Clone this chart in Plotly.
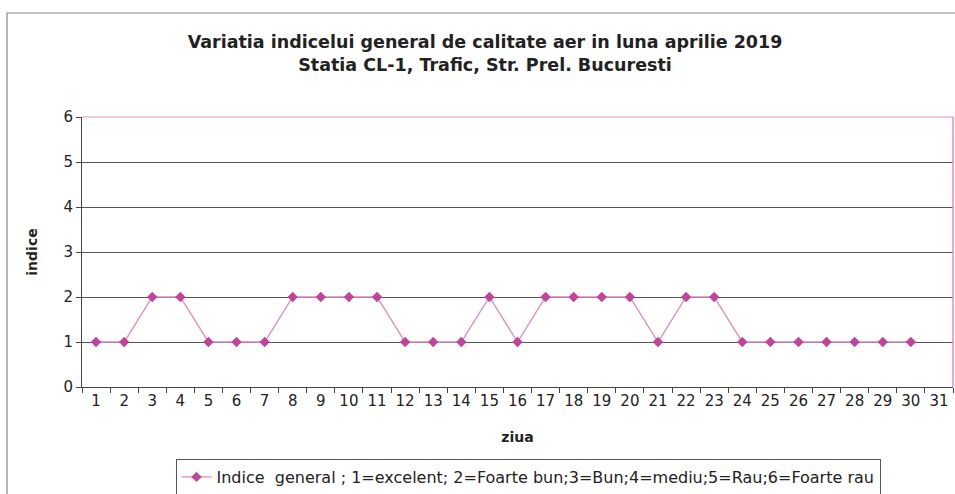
import plotly.graph_objects as go

days = [str(d) for d in range(1, 32)]
indice = [1, 1, 2, 2, 1, 1, 1, 2, 2, 2, 2, 1, 1, 1, 2, 1, 2, 2, 2, 2, 1, 2, 2, 1, 1, 1, 1, 1, 1, 1, None]
y_ticks = [0, 1, 2, 3, 4, 5, 6]

title_text = "<b>Variatia indicelui general de calitate aer in luna aprilie 2019<br>Statia CL-1, Trafic, Str. Prel. Bucuresti</b>"
series_name = "Indice  general ; 1=excelent; 2=Foarte bun;3=Bun;4=mediu;5=Rau;6=Foarte rau"

FONT = "DejaVu Sans, Liberation Sans, Arial, sans-serif"
W, H = 955, 494
L, R, T, B = 82, 2, 117, 107
PW, PH = W - L - R, H - T - B

fig = go.Figure()
fig.add_trace(go.Scatter(
    x=days, y=indice, mode="lines+markers", name=series_name,
    line=dict(color="#d88cbc", width=1.3),
    marker=dict(symbol="diamond", size=8, color="#c2449a"),
    connectgaps=False,
))

fig.update_layout(
    width=W, height=H,
    margin=dict(l=L, r=R, t=T, b=B, autoexpand=False),
    paper_bgcolor="white", plot_bgcolor="white",
    font=dict(family=FONT, color="#222", size=15),
    title=dict(text=title_text, x=485 / W, xanchor="center", xref="container",
               y=(H - 48) / H, yanchor="top", yref="container",
               font=dict(family=FONT, size=17.5, color="#222")),
    showlegend=True,
    legend=dict(orientation="h", x=(528 - L) / PW, xanchor="center",
                y=(H - B - 459) / PH, yanchor="top",
                bordercolor="#555", borderwidth=1, bgcolor="white",
                font=dict(family=FONT, size=16, color="#222"),
                itemwidth=30, tracegroupgap=0),
    xaxis=dict(type="category", range=[-0.5, 30.5], tickson="boundaries",
               ticks="outside", ticklen=5, tickcolor="#444", tickangle=0,
               showline=True, linecolor="#444", linewidth=1, automargin=False,
               showgrid=False, tickfont=dict(size=15),
               title=dict(text="<b>ziua</b>", font=dict(size=14), standoff=23)),
    yaxis=dict(range=[0, 6], tickvals=y_ticks, ticks="outside", ticklen=5, tickcolor="#444",
               showline=True, linecolor="#444", linewidth=1, automargin=False,
               showgrid=True, gridcolor="#555", gridwidth=1, zeroline=False,
               tickfont=dict(size=15),
               title=dict(text="<b>indice</b>", font=dict(size=14), standoff=22)),
)

# pink top/right border of plot area
fig.add_shape(type="line", xref="paper", yref="paper", x0=0, x1=1, y0=1, y1=1,
              line=dict(color="#e08fb8", width=1))
fig.add_shape(type="line", xref="paper", yref="paper", x0=1, x1=1, y0=0, y1=1,
              line=dict(color="#e08fb8", width=1.5))
# outer chart frame
fig.add_shape(type="rect", xref="paper", yref="paper",
              x0=(7 - L) / PW, x1=(W + 5 - L) / PW,
              y0=(H - B - (H + 5)) / PH, y1=(H - B - 13) / PH,
              line=dict(color="#888", width=1.2), layer="below")

fig.write_html(
    "out.html",
    config={"displayModeBar": False},
    post_script="document.body.style.margin='0';document.body.style.overflow='hidden';",
)
